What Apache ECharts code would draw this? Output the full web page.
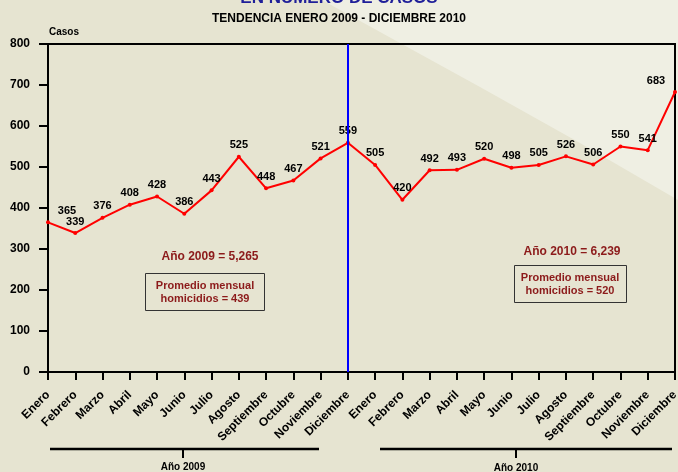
<!DOCTYPE html>
<html><head><meta charset="utf-8">
<script src="https://cdn.jsdelivr.net/npm/echarts@6/dist/echarts.min.js"></script>
<style>html,body{margin:0;padding:0;}#c{width:678px;height:472px;}</style>
</head><body><div id="c"></div>
<script>
const months = ['Enero','Febrero','Marzo','Abril','Mayo','Junio','Julio','Agosto','Septiembre','Octubre','Noviembre','Diciembre'];
const categories = months.concat(months);
const casos2009 = [365,339,376,408,428,386,443,525,448,467,521,559];
const casos2010 = [505,420,492,493,520,498,505,526,506,550,541,683];
const values = casos2009.concat(casos2010);
const yTicks = [0,100,200,300,400,500,600,700,800];

const sum = a => a.reduce((s,v)=>s+v,0);
const fmt = n => n.toLocaleString('en-US');
const t2009 = sum(casos2009), t2010 = sum(casos2010);
const avg2009 = Math.round(t2009/12), avg2010 = Math.round(t2010/12);

const labelOffsets = {0:[19,0], 23:[-19,0]};
const seriesData = values.map((v,i)=> labelOffsets[i] ? {value:v, label:{offset:labelOffsets[i]}} : v);

const dark = '#8c1a1a';
const chart = echarts.init(document.getElementById('c'));
chart.setOption({
  backgroundColor:'#e6e4d1',
  animation:false,
  grid:{left:48, right:3, top:44, bottom:100, show:true, borderColor:'#000', borderWidth:2, backgroundColor:'transparent', outerBoundsMode:'none', containLabel:false},
  graphic:[
    {type:'polygon', z:-10, silent:true, shape:{points:[[322,0],[400,43],[480,87],[580,143],[678,200],[678,0]]}, style:{fill:'#efefe3'}},
    {type:'text', left:'center', top:-10, style:{text:'EN NUMERO DE CASOS', font:'bold 17px Arial', fill:'#1f1f99'}},
    {type:'text', left:'center', top:13, style:{text:'TENDENCIA ENERO 2009 - DICIEMBRE 2010', font:'bold 12px Arial', fill:'#000'}},
    {type:'text', left:49, top:27, style:{text:'Casos', font:'bold 10px Arial', fill:'#000'}},
    {type:'text', x:210, y:257, style:{text:'Año 2009 = '+fmt(t2009), font:'bold 12px Arial', fill:dark, align:'center', verticalAlign:'middle'}},
    {type:'rect', shape:{x:145.5, y:273.5, width:119, height:37}, style:{fill:'none', stroke:'#333', lineWidth:1}},
    {type:'text', x:205, y:292, style:{text:'Promedio mensual\nhomicidios = '+avg2009, font:'bold 11px Arial', fill:dark, align:'center', verticalAlign:'middle', lineHeight:13}},
    {type:'text', x:572, y:252, style:{text:'Año 2010 = '+fmt(t2010), font:'bold 12px Arial', fill:dark, align:'center', verticalAlign:'middle'}},
    {type:'rect', shape:{x:514.5, y:265.5, width:112, height:37}, style:{fill:'none', stroke:'#333', lineWidth:1}},
    {type:'text', x:570, y:284, style:{text:'Promedio mensual\nhomicidios = '+avg2010, font:'bold 11px Arial', fill:dark, align:'center', verticalAlign:'middle', lineHeight:13}},
    {type:'polyline', shape:{points:[[50,449],[319,449]]}, style:{stroke:'#000', lineWidth:2.5}},
    {type:'polyline', shape:{points:[[183,449],[183,458]]}, style:{stroke:'#000', lineWidth:2}},
    {type:'text', x:183, y:467, style:{text:'Año 2009', font:'bold 10px Arial', fill:'#000', align:'center', verticalAlign:'middle'}},
    {type:'polyline', shape:{points:[[380,449],[672,449]]}, style:{stroke:'#000', lineWidth:2.5}},
    {type:'polyline', shape:{points:[[516,449],[516,458]]}, style:{stroke:'#000', lineWidth:2}},
    {type:'text', x:516, y:468, style:{text:'Año 2010', font:'bold 10px Arial', fill:'#000', align:'center', verticalAlign:'middle'}}
  ],
  xAxis:{type:'category', data:categories, boundaryGap:false,
    axisLine:{lineStyle:{color:'#000', width:2}},
    axisTick:{show:true, length:8, interval:0, lineStyle:{color:'#000', width:2}},
    axisLabel:{interval:0, rotate:45, margin:21, fontFamily:'Arial', fontWeight:'bold', fontSize:12, color:'#000', hideOverlap:false},
    splitLine:{show:false}},
  yAxis:{type:'value', min:yTicks[0], max:yTicks[yTicks.length-1], interval:100,
    axisLine:{show:true, lineStyle:{color:'#000', width:2}},
    axisTick:{show:true, length:9, lineStyle:{color:'#000', width:2}},
    axisLabel:{margin:18, fontFamily:'Arial', fontWeight:'bold', fontSize:12, color:'#000'},
    splitLine:{show:false}},
  series:[{
    type:'line', data:seriesData, symbol:'circle', symbolSize:4,
    itemStyle:{color:'#ff0000'}, lineStyle:{color:'#ff0000', width:2},
    label:{show:true, position:'top', distance:4, fontFamily:'Arial', fontWeight:'bold', fontSize:11, color:'#000'},
    markLine:{silent:true, symbol:'none', label:{show:false}, lineStyle:{color:'#0000ff', width:2, type:'solid'}, data:[{xAxis:11}]},
    z:3
  }]
});
</script></body></html>
